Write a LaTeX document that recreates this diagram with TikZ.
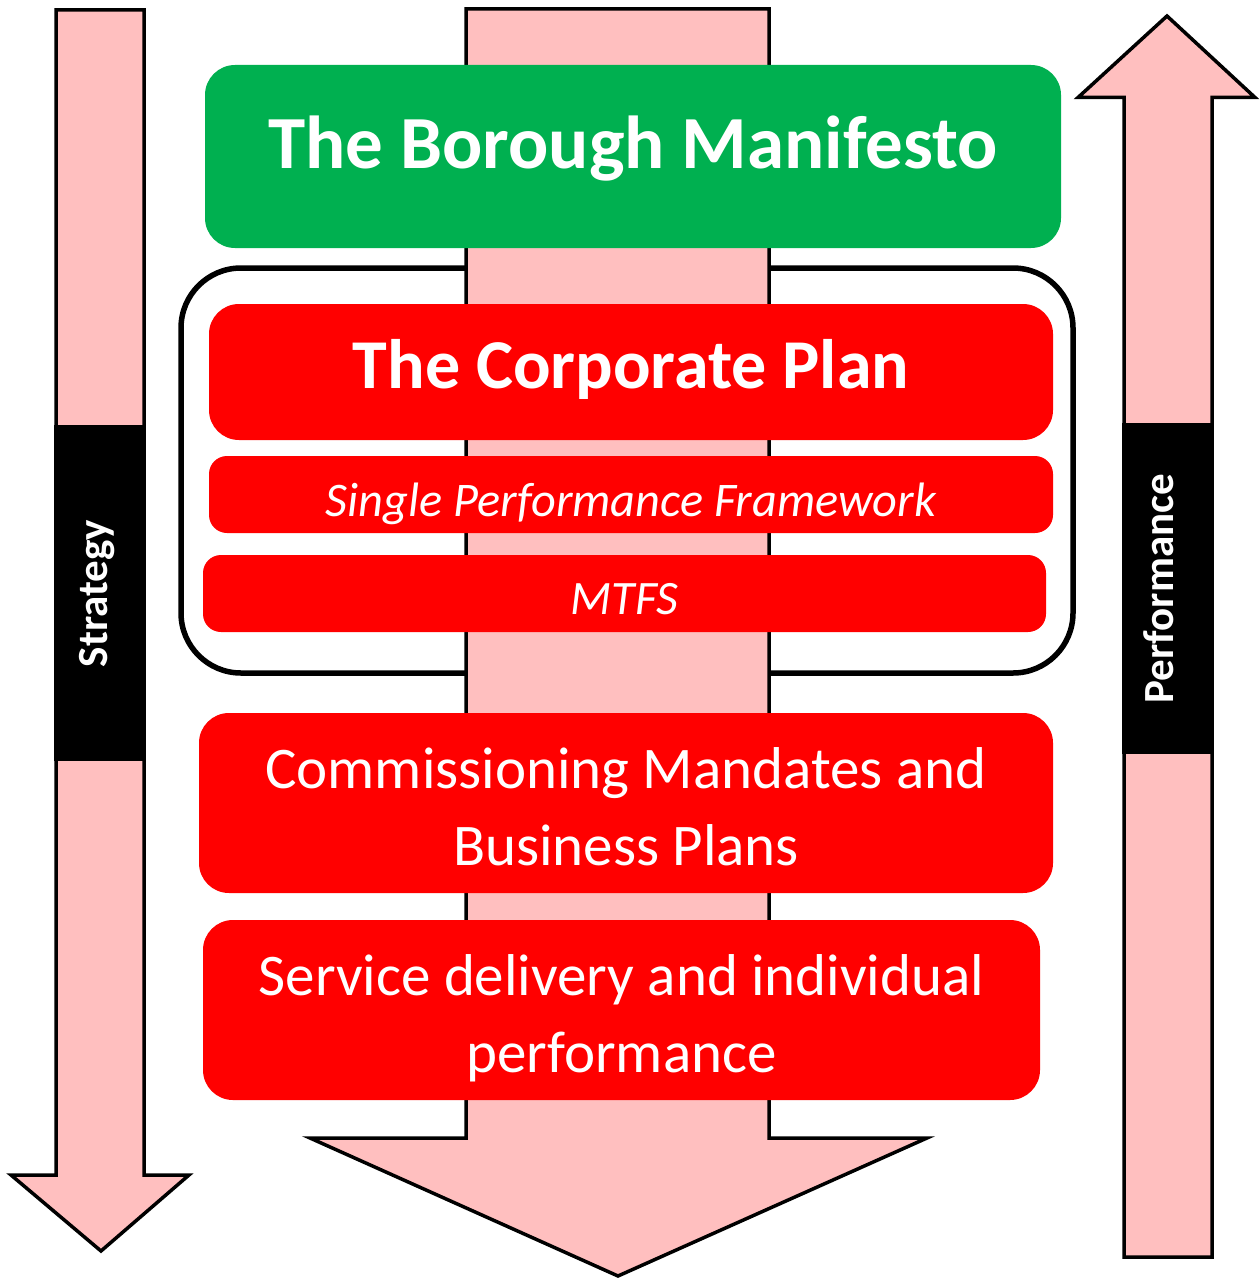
\documentclass[tikz,border=0pt]{standalone}
\usepackage{fontspec}
\setmainfont{Carlito}
\definecolor{pinkfill}{HTML}{FFBFBF}
\definecolor{mangreen}{HTML}{00B050}
\definecolor{boxred}{HTML}{FF0000}
\begin{document}
\begin{tikzpicture}[x=1pt,y=-1pt,
  arrowshape/.style={draw=black, fill=pinkfill, line width=3.5pt, line join=miter},
  bandfill/.style={fill=black},
  outlinebox/.style={draw=black, line width=5.5pt, rounded corners=60pt, inner sep=0pt},
  filledbox/.style={text=white, inner sep=0pt, align=center},
  greenbox/.style={filledbox, fill=mangreen, rounded corners=30pt},
  bigred/.style={filledbox, fill=boxred, rounded corners=30pt},
  smallred/.style={filledbox, fill=boxred, rounded corners=18pt},
  boxtext/.style={text=white, inner sep=0pt, align=center, font=\fontsize{59}{77}\selectfont},
  sidelabel/.style={text=white, inner sep=0pt, rotate=90, anchor=base,
    font=\bfseries\fontsize{43}{52}\selectfont}
]
\useasboundingbox (0,0) rectangle (1259,1279);

% outline around the corporate plan group
\node[outlinebox, minimum width=892pt, minimum height=405pt] (group) at (627,470.5) {};

% big central arrow
\draw[arrowshape] (466,9) -- (769,9) -- (769,1138) -- (927,1138) -- (618,1276)
  -- (310,1138) -- (466,1138) -- cycle;

% left (strategy) arrow
\draw[arrowshape] (56,10) -- (144,10) -- (144,1175) -- (189,1175) -- (101,1251)
  -- (11,1175) -- (56,1175) -- cycle;
\fill[bandfill] (54,425) rectangle (146,761);
\node[sidelabel] (strategy) at (107,593.5) {Strategy};

% right (performance) arrow
\draw[arrowshape] (1124,1257) -- (1124,97.5) -- (1078,97.5) -- (1167,16)
  -- (1255,97.5) -- (1212,97.5) -- (1212,1257) -- cycle;
\fill[bandfill] (1122,423) rectangle (1214,754);
\node[sidelabel] (performance) at (1173,588.5) {Performance};

% boxes
\node[greenbox, minimum width=856pt, minimum height=183pt, text height=23pt, text depth=0pt,
  font=\bfseries\fontsize{75}{90}\selectfont] (manifesto) at (633,156.5) {The Borough Manifesto};

\node[bigred, minimum width=844pt, minimum height=136pt, text height=32pt, text depth=0pt,
  font=\bfseries\fontsize{70}{84}\selectfont] (corporate) at (631,372) {The Corporate Plan};

\node[smallred, minimum width=844pt, minimum height=77pt, text height=43pt, text depth=0pt,
  font=\itshape\fontsize{48.3}{58}\selectfont] (spf) at (631,494.5) {Single Performance Framework};

\node[smallred, minimum width=843pt, minimum height=77pt, text height=41pt, text depth=0pt,
  font=\itshape\fontsize{48}{58}\selectfont] (mtfs) at (624.5,593.5) {MTFS};

\node[bigred, minimum width=854pt, minimum height=180pt] (mandates) at (626,803) {};
\node[boxtext] (mandatestext) at ([yshift=-3.5pt]mandates.center)
  {Commissioning Mandates and\\Business Plans};

\node[bigred, minimum width=837pt, minimum height=180pt] (service) at (621.5,1010) {};
\node[boxtext] (servicetext) at ([yshift=-8pt]service.center)
  {Service delivery and individual\\performance};
\end{tikzpicture}
\end{document}
